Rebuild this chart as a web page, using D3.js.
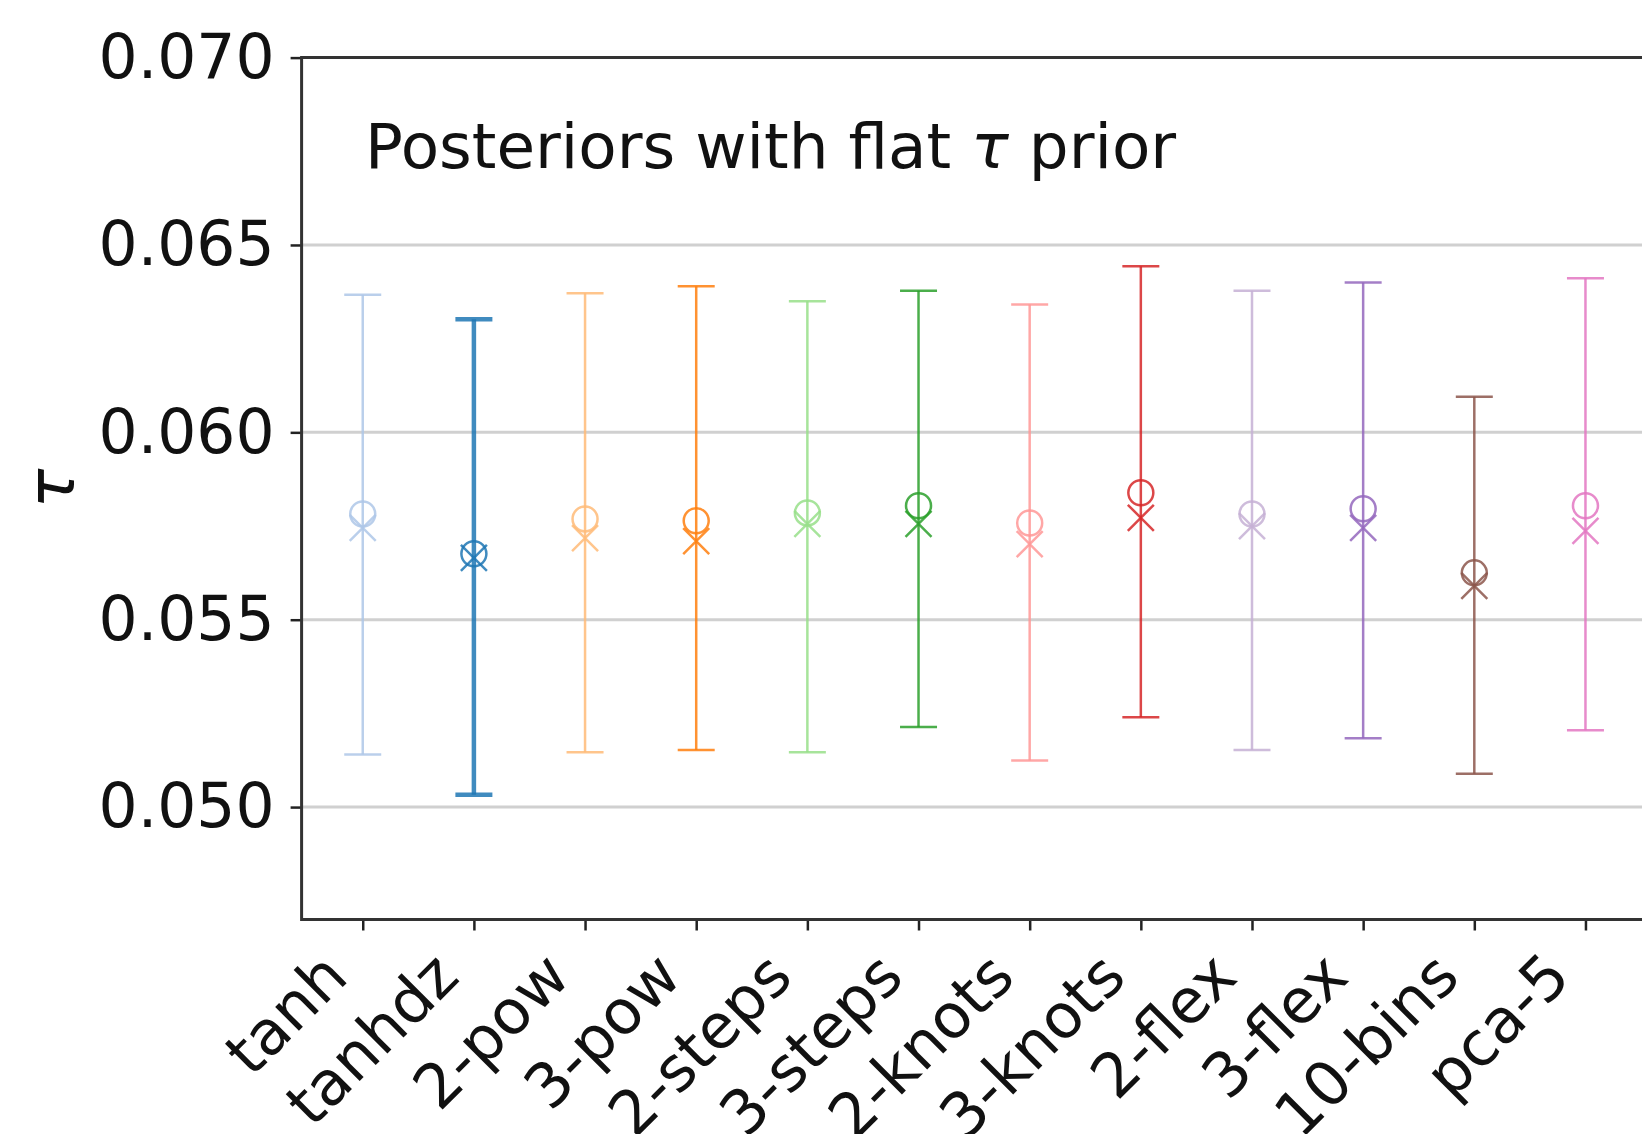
<!DOCTYPE html>
<html>
<head>
<meta charset="utf-8">
<script src="https://cdn.jsdelivr.net/npm/d3@7"></script>
<style>
  body { margin: 0; background: #fff; }
  text { font-family: "DejaVu Sans", sans-serif; }
</style>
</head>
<body>
<svg id="wrapper"></svg>
<script>
// models on the x axis and their posterior summaries of tau
let models = ['tanh','tanhdz','2-pow','3-pow','2-steps','3-steps','2-knots','3-knots','2-flex','3-flex','10-bins','pca-5'];
let colors = ['#aec7e8','#1f77b4','#ffbb78','#ff7f0e','#98df8a','#2ca02c','#ff9896','#d62728','#c5b0d5','#9467bd','#8c564b','#e377c2'];
let tauMean = [0.05782,0.05676,0.05769,0.05764,0.05785,0.05804,0.05758,0.05839,0.05782,0.05796,0.05625,0.05804];
let tauBest = [0.05745,0.05665,0.05718,0.05710,0.05756,0.05756,0.05702,0.05772,0.05750,0.05745,0.05590,0.05737];
let tauLo = [0.05140,0.05033,0.05146,0.05152,0.05146,0.05214,0.05124,0.05240,0.05152,0.05184,0.05089,0.05205];
let tauHi = [0.06367,0.06302,0.06371,0.06390,0.06350,0.06378,0.06341,0.06443,0.06378,0.06400,0.06095,0.06411];
let yTicks = [0.050,0.055,0.060,0.065,0.070];

let width = 1642, height = 1134;
let fontSize = 61.5;

let data = models.map(function(m,i){
  return {model:m, idx:i, color:colors[i], mean:tauMean[i], best:tauBest[i], lo:tauLo[i], hi:tauHi[i]};
});

let svg = d3.select('#wrapper')
  .attr('width',width)
  .attr('height',height);

svg.append('rect').attr('width',width).attr('height',height).attr('fill','#fff');

//scales: plot area runs past the right edge (the original was cropped)
let xScale = d3.scaleLinear()
  .domain([-0.55, 11.55])
  .range([301.6, 1646.6]);

let yScale = d3.scaleLinear()
  .domain([0.047, 0.070])
  .range([919.5, 57.6]);

let x0 = xScale.range()[0], x1 = xScale.range()[1];
let yBottom = yScale.range()[0], yTop = yScale.range()[1];

//grid
svg.append('g')
  .selectAll('line')
  .data(yTicks.slice(0,-1))
  .join('line')
  .attr('x1',x0).attr('x2',x1)
  .attr('y1',d => yScale(d)).attr('y2',d => yScale(d))
  .attr('stroke','#d0d0d0')
  .attr('stroke-width',3);

//error bars
let bars = svg.append('g')
  .selectAll('g')
  .data(data)
  .join('g')
  .attr('stroke',d => d.color)
  .attr('stroke-opacity',0.85)
  .attr('fill','none');

let capHalf = 18.5;
bars.each(function(d){
  let g = d3.select(this);
  let cx = xScale(d.idx);
  let lw = d.model === 'tanhdz' ? 4.5 : 2.5;
  g.append('line')
    .attr('x1',cx).attr('x2',cx)
    .attr('y1',yScale(d.lo)).attr('y2',yScale(d.hi))
    .attr('stroke-width',lw);
  [d.lo,d.hi].forEach(function(v){
    g.append('line')
      .attr('x1',cx-capHalf).attr('x2',cx+capHalf)
      .attr('y1',yScale(v)).attr('y2',yScale(v))
      .attr('stroke-width',lw);
  });
  g.append('circle')
    .attr('cx',cx).attr('cy',yScale(d.mean))
    .attr('r',12.5)
    .attr('stroke-width',2.5);
  let by = yScale(d.best), s = 13;
  g.append('path')
    .attr('d','M'+(cx-s)+','+(by-s)+'L'+(cx+s)+','+(by+s)+'M'+(cx-s)+','+(by+s)+'L'+(cx+s)+','+(by-s))
    .attr('stroke-width',2.5);
});

//axes
let yAxis = d3.axisLeft(yScale)
  .tickValues(yTicks)
  .tickFormat(d3.format('.3f'))
  .tickSize(11)
  .tickPadding(16);

let gy = svg.append('g')
  .attr('transform','translate('+x0+',0)')
  .call(yAxis);
gy.select('.domain').remove();
gy.selectAll('text').attr('font-size',fontSize).attr('fill','#111').style('font-family','DejaVu Sans');
gy.selectAll('line').attr('stroke','#222').attr('stroke-width',2.5);

let xAxis = d3.axisBottom(xScale)
  .tickValues(d3.range(models.length))
  .tickFormat(i => models[i])
  .tickSize(11);

let gx = svg.append('g')
  .attr('transform','translate(0,'+yBottom+')')
  .call(xAxis);
gx.select('.domain').remove();
gx.selectAll('line').attr('stroke','#222').attr('stroke-width',2.5);
gx.selectAll('text')
  .attr('x',0).attr('y',0).attr('dy',null)
  .attr('text-anchor','end')
  .attr('transform','translate(-13,60) rotate(-45)')
  .attr('font-size',fontSize).attr('fill','#111')
  .style('font-family','DejaVu Sans');

//spines
svg.append('path')
  .attr('d','M'+x1+','+yTop+'H'+x0+'V'+yBottom+'H'+x1)
  .attr('fill','none')
  .attr('stroke','#333')
  .attr('stroke-width',3);

//labels
svg.append('text')
  .attr('transform','translate(74,'+((yTop+yBottom)/2)+') rotate(-90)')
  .attr('text-anchor','middle')
  .attr('font-size',66)
  .attr('font-style','italic')
  .attr('fill','#111')
  .text('τ');

let title = svg.append('text')
  .attr('x',365).attr('y',167.5)
  .attr('font-size',62.8)
  .attr('fill','#111');
title.append('tspan').text('Posteriors with flat ');
title.append('tspan').attr('font-style','italic').text('τ');
title.append('tspan').text(' prior');
</script>
</body>
</html>
